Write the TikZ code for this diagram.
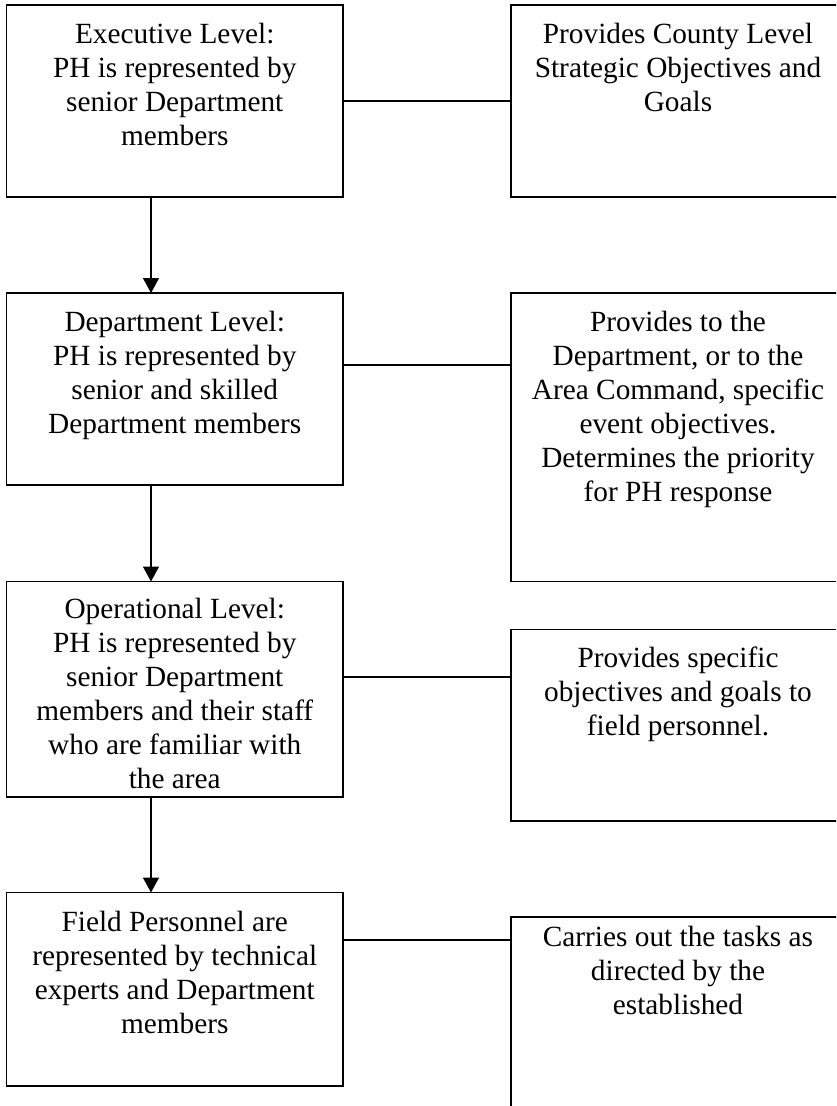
\documentclass[tikz,border=0pt]{standalone}
\usepackage{fontspec}
\setmainfont{Liberation Serif}
\usetikzlibrary{arrows.meta}
\tikzset{
  box/.style={draw, line width=1.5pt, rectangle, inner sep=0pt, outer sep=0pt},
  txt/.style={anchor=north, inner sep=0pt, align=center, font=\fontsize{29.3}{34}\selectfont},
  link/.style={line width=1.5pt},
  arr/.style={line width=1.5pt, -{Triangle[width=16pt,length=15pt]}}
}
\begin{document}
\begin{tikzpicture}[x=1pt,y=-1pt]
\useasboundingbox (0,0) rectangle (836,1106);
\clip (0,0) rectangle (836,1106);
\fill[white] (0,0) rectangle (836,1106);
% left boxes
\node[box, minimum width=336.5pt, minimum height=192pt] (L1) at (174.75,101) {};
\node[box, minimum width=336.5pt, minimum height=192pt] (L2) at (174.75,389) {};
\node[box, minimum width=336.5pt, minimum height=215.5pt] (L3) at (174.75,689.25) {};
\node[box, minimum width=336.5pt, minimum height=193.5pt] (L4) at (174.75,989.25) {};
% right boxes
\node[box, minimum width=334pt, minimum height=192pt] (R1) at (678,101) {};
\node[box, minimum width=334pt, minimum height=288.5pt] (R2) at (678,437.25) {};
\node[box, minimum width=334pt, minimum height=191.7pt] (R3) at (678,725.15) {};
\node[box, minimum width=334pt, minimum height=283pt] (R4) at (678,1058.5) {};
% texts
\node[txt] (tL1) at ([yshift=-14.2pt]L1.north) {\strut Executive Level:\\PH is represented by\\senior Department\\members};
\node[txt] (tL2) at ([yshift=-14.2pt]L2.north) {\strut Department Level:\\PH is represented by\\senior and skilled\\Department members};
\node[txt] (tL3) at ([yshift=-13.2pt]L3.north) {\strut Operational Level:\\PH is represented by\\senior Department\\members and their staff\\who are familiar with\\the area};
\node[txt] (tL4) at ([yshift=-15.2pt]L4.north) {\strut Field Personnel are\\represented by technical\\experts and Department\\members};
\node[txt] (tR1) at ([yshift=-14.2pt]R1.north) {\strut Provides County Level\\Strategic Objectives and\\Goals};
\node[txt] (tR2) at ([yshift=-14.2pt]R2.north) {\strut Provides to the\\Department, or to the\\Area Command, specific\\event objectives.\\Determines the priority\\for PH response};
\node[txt] (tR3) at ([yshift=-14.2pt]R3.north) {\strut Provides specific\\objectives and goals to\\field personnel.};
\node[txt] (tR4) at ([yshift=-5.2pt]R4.north) {\strut Carries out the tasks as\\directed by the\\established};
% helper coordinates
\coordinate (ax) at (151,0);
\coordinate (c1) at (0,101);
\coordinate (c2) at (0,365);
\coordinate (c3) at (0,677);
\coordinate (c4) at (0,940);
% arrows
\draw[arr] (L1.south -| ax) -- (L2.north -| ax);
\draw[arr] (L2.south -| ax) -- (L3.north -| ax);
\draw[arr] (L3.south -| ax) -- (L4.north -| ax);
% links
\draw[link] (L1.east |- c1) -- (R1.west |- c1);
\draw[link] (L2.east |- c2) -- (R2.west |- c2);
\draw[link] (L3.east |- c3) -- (R3.west |- c3);
\draw[link] (L4.east |- c4) -- (R4.west |- c4);
\end{tikzpicture}
\end{document}
